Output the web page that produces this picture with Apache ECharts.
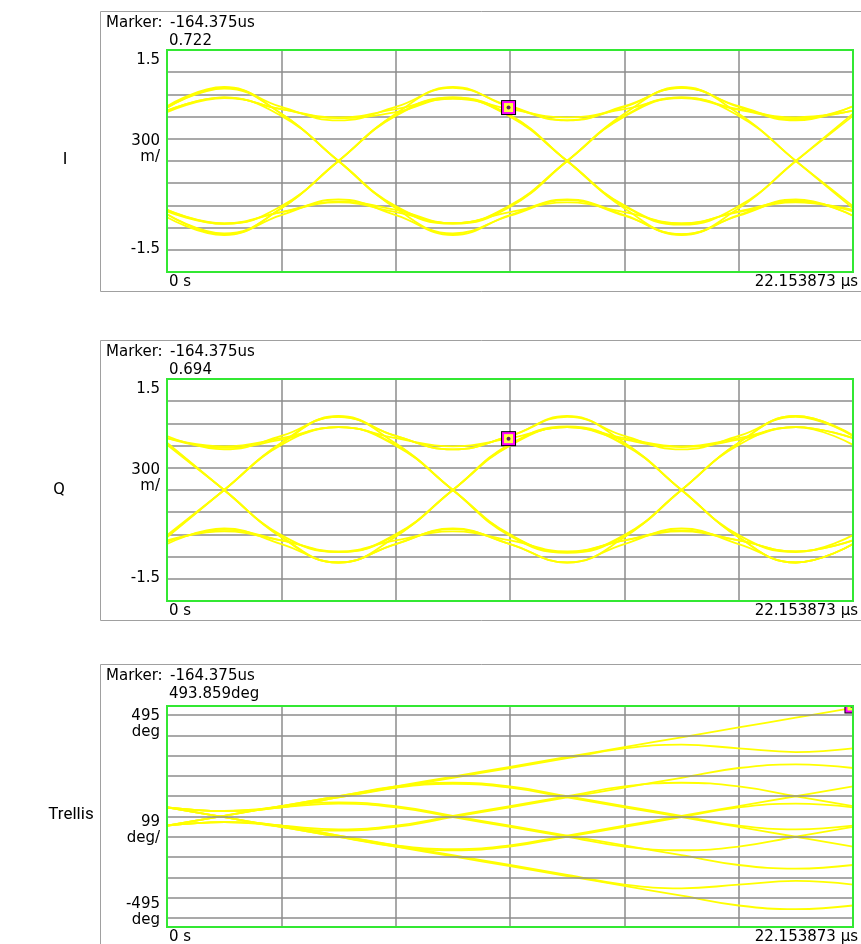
<!DOCTYPE html>
<html>
<head>
<meta charset="utf-8">
<script src="https://cdn.jsdelivr.net/npm/echarts@6/dist/echarts.min.js"></script>
<style>
html,body{margin:0;padding:0;background:#fff;}
#chart{width:861px;height:944px;}
</style>
</head>
<body>
<div id="chart"></div>
<script>
// ---------- data ----------
const panelNames = ['I', 'Q', 'Trellis'];
const markerLabel = 'Marker:';
const markerTime = '-164.375us';
const markerReadouts = ['0.722', '0.694', '493.859deg'];
const xStartLabel = '0 s';
const xEndLabel = '22.153873 µs';
const xMax = 22.153873;
const iqTickLabels = ['1.5', '300\nm/', '-1.5'];
const trellisTickLabels = ['495\ndeg', '99\ndeg/', '-495\ndeg'];
const trellisGridValues = [-495, -396, -297, -198, -99, 0, 99, 198, 297, 396, 495];

// sample times (µs), quarter-symbol spacing
const timeUs = [0, 1.846, 3.692, 5.538, 7.385, 9.231, 11.077, 12.923, 14.769, 16.615, 18.462, 20.308, 22.153873];

// I eye-diagram traces (V)
const iTraces = [
  [0.74, 1.00, 0.73, 0.55, 0.73, 1.00, 0.73, 0.55, 0.73, 1.00, 0.73, 0.55, 0.74],
  [0.68, 0.86, 0.70, 0.59, 0.70, 0.86, 0.70, 0.59, 0.70, 0.86, 0.70, 0.59, 0.68],
  [-0.76, -1.00, -0.73, -0.52, -0.73, -1.00, -0.73, -0.52, -0.73, -1.00, -0.73, -0.52, -0.74],
  [-0.66, -0.84, -0.69, -0.56, -0.69, -0.84, -0.69, -0.56, -0.69, -0.84, -0.69, -0.56, -0.66],
  [0.72, 0.99, 0.64, 0.00, -0.64, -0.98, -0.74, -0.53, -0.74, -0.99, -0.64, 0.00, 0.64],
  [-0.72, -0.99, -0.64, 0.00, 0.64, 0.99, 0.74, 0.55, 0.74, 0.99, 0.64, 0.00, -0.64],
  [0.68, 0.86, 0.70, 0.58, 0.66, 0.85, 0.60, 0.00, -0.60, -0.85, -0.68, -0.55, -0.68],
  [-0.68, -0.85, -0.69, -0.55, -0.66, -0.84, -0.60, 0.00, 0.60, 0.85, 0.69, 0.58, 0.68],
  [0.66, 0.85, 0.61, 0.00, -0.61, -0.84, -0.61, 0.00, 0.61, 0.86, 0.61, 0.00, -0.61],
  [-0.66, -0.85, -0.61, 0.00, 0.61, 0.84, 0.61, 0.00, -0.61, -0.86, -0.61, 0.00, 0.61],
  [0.72, 0.98, 0.64, 0.00, -0.62, -0.85, -0.62, 0.00, 0.64, 0.99, 0.74, 0.56, 0.74],
  [-0.72, -0.98, -0.64, 0.00, 0.62, 0.86, 0.62, 0.00, -0.64, -0.99, -0.74, -0.53, -0.74]
];

// Q eye-diagram traces (V)
const qTraces = [
  [0.73, 0.55, 0.73, 1.00, 0.73, 0.55, 0.73, 1.00, 0.73, 0.55, 0.73, 1.00, 0.73],
  [0.70, 0.59, 0.70, 0.85, 0.70, 0.59, 0.70, 0.85, 0.70, 0.59, 0.70, 0.85, 0.70],
  [-0.73, -0.52, -0.73, -0.98, -0.73, -0.52, -0.73, -0.98, -0.73, -0.52, -0.73, -0.98, -0.73],
  [-0.68, -0.56, -0.68, -0.83, -0.68, -0.56, -0.68, -0.83, -0.68, -0.56, -0.68, -0.83, -0.68],
  [0.64, 0.00, -0.64, -0.98, -0.73, -0.53, -0.73, -0.98, -0.64, 0.00, 0.64, 0.99, 0.73],
  [-0.64, 0.00, 0.64, 0.99, 0.73, 0.55, 0.73, 0.99, 0.64, 0.00, -0.64, -0.98, -0.73],
  [0.70, 0.57, 0.68, 0.85, 0.60, 0.00, -0.60, -0.84, -0.68, -0.55, -0.68, -0.83, -0.68],
  [-0.70, -0.54, -0.68, -0.84, -0.60, 0.00, 0.60, 0.85, 0.68, 0.58, 0.68, 0.85, 0.70],
  [0.61, 0.00, -0.61, -0.84, -0.61, 0.00, 0.61, 0.85, 0.61, 0.00, -0.61, -0.84, -0.61],
  [-0.61, 0.00, 0.61, 0.85, 0.61, 0.00, -0.61, -0.84, -0.61, 0.00, 0.61, 0.85, 0.61],
  [-0.63, 0.00, 0.63, 0.99, 0.63, 0.00, -0.62, -0.85, -0.62, 0.00, 0.64, 1.00, 0.74],
  [0.63, 0.00, -0.63, -0.98, -0.63, 0.00, 0.62, 0.86, 0.62, 0.00, -0.64, -0.98, -0.73]
];

// Trellis (phase) traces (deg)
const trellisTraces = [
  [-45, 3, 51, 99, 147, 195, 243, 291, 339, 387, 435, 483, 531],
  [45, -3, -51, -99, -147, -195, -243, -291, -339, -387, -435, -453, -435],
  [45, 27, 45, 63, 45, -3, -51, -99, -147, -165, -147, -99, -51],
  [-45, -27, -45, -63, -45, 3, 51, 99, 147, 165, 147, 99, 51],
  [-45, 3, 51, 99, 147, 165, 147, 99, 51, 3, -45, -63, -45],
  [45, -3, -51, -99, -147, -165, -147, -99, -51, -3, 45, 63, 45],
  [45, 27, 45, 93, 141, 189, 237, 285, 333, 351, 333, 315, 333],
  [-45, -27, -45, -93, -141, -189, -237, -285, -333, -351, -333, -315, -333],
  [-45, -27, -45, -93, -141, -159, -141, -93, -45, 3, 51, 99, 147],
  [45, 27, 45, 93, 141, 159, 141, 93, 45, -3, -51, -99, -147],
  [45, -3, -51, -69, -51, -3, 45, 93, 141, 189, 237, 255, 237],
  [-45, 3, 51, 69, 51, 3, -45, -93, -141, -189, -237, -255, -237]
];

// marker positions (time µs, value)
const markerI = [11.03, 0.722];
const markerQ = [11.03, 0.694];
const markerT = [22.12, 540];

// ---------- chart ----------
const chart = echarts.init(document.getElementById('chart'), null, {renderer: 'canvas'});
const FONT = '"DejaVu Sans", sans-serif';
const gridColor = '#8c8c8c';
const green = '#33e833';
const traceColor = '#ffff00';

const plots = [
  {top: 50, height: 222, frameTop: 11.5, frameH: 280},
  {top: 379, height: 222, frameTop: 340.5, frameH: 280},
  {top: 706, height: 221, frameTop: 664.5, frameH: 300}
];
const plotLeft = 167, plotWidth = 686;

const grids = plots.map(p => ({
  left: plotLeft, top: p.top, width: plotWidth, height: p.height,
  show: true, borderWidth: 0, backgroundColor: '#ffffff'
}));

const splitStyle = {show: true, showMinLine: false, showMaxLine: false, lineStyle: {color: gridColor, width: 1.5}};
const xAxes = plots.map((p, i) => ({
  type: 'value', gridIndex: i, min: 0, max: xMax, interval: xMax / 6,
  axisLine: {show: false}, axisTick: {show: false}, axisLabel: {show: false},
  splitLine: splitStyle
}));

const yAxes = [
  {type: 'value', gridIndex: 0, min: -1.5, max: 1.5, interval: 0.3},
  {type: 'value', gridIndex: 1, min: -1.5, max: 1.5, interval: 0.3},
  {type: 'value', gridIndex: 2, min: -540, max: 540, interval: 108}
].map((a, i) => Object.assign(a, {
  axisLine: {show: false}, axisTick: {show: false}, axisLabel: {show: false},
  splitLine: i < 2 ? splitStyle : {show: false}
}));

const series = [];
function addTraces(traces, idx) {
  traces.forEach(tr => {
    series.push({
      type: 'line', xAxisIndex: idx, yAxisIndex: idx, smooth: 0.45,
      symbol: 'none', silent: true, animation: false, z: 3,
      lineStyle: {color: traceColor, width: 1.8},
      data: timeUs.map((t, k) => [t, tr[k]])
    });
  });
}
// trellis grid lines
series.push({
  type: 'line', xAxisIndex: 2, yAxisIndex: 2, data: [], silent: true, animation: false, z: 1,
  markLine: {
    silent: true, symbol: 'none', animation: false, label: {show: false},
    lineStyle: {color: gridColor, width: 1.5, type: 'solid'},
    data: trellisGridValues.map(v => ({yAxis: v}))
  }
});
addTraces(iTraces, 0);
addTraces(qTraces, 1);
addTraces(trellisTraces, 2);

function addMarker(pt, idx) {
  series.push({
    type: 'custom', xAxisIndex: idx, yAxisIndex: idx, clip: true, silent: true, animation: false, z: 10,
    data: [pt],
    renderItem: function (params, api) {
      const c = api.coord([api.value(0), api.value(1)]);
      return {type: 'group', children: [
        {type: 'rect', shape: {x: c[0] - 7.5, y: c[1] - 7.5, width: 15, height: 15}, style: {fill: '#000'}},
        {type: 'rect', shape: {x: c[0] - 6.5, y: c[1] - 6.5, width: 13, height: 13}, style: {fill: '#ff00ff'}},
        {type: 'rect', shape: {x: c[0] - 4.5, y: c[1] - 4.5, width: 9, height: 9}, style: {fill: '#ffff40'}},
        {type: 'circle', shape: {cx: c[0], cy: c[1], r: 2}, style: {fill: '#602060'}}
      ]};
    }
  });
}
addMarker(markerI, 0);
addMarker(markerQ, 1);
addMarker(markerT, 2);

// ---------- text & frames ----------
const graphic = [];
const txt = (x, y, text, align, extra) => Object.assign({
  type: 'text', x: x, y: y, silent: true,
  style: Object.assign({text: text, font: '15px ' + FONT, fill: '#000', align: align || 'left', verticalAlign: 'middle', lineHeight: 16}, extra || {})
});
plots.forEach((p, i) => {
  graphic.push({type: 'rect', silent: true, z: 0, shape: {x: 100.5, y: p.frameTop, width: 800, height: p.frameH},
    style: {fill: 'none', stroke: '#a0a0a0', lineWidth: 1}});
  graphic.push({type: 'rect', silent: true, z: 100, shape: {x: plotLeft, y: p.top, width: plotWidth, height: p.height},
    style: {fill: 'none', stroke: green, lineWidth: 2}});
  const off = i === 2 ? 3 : 0;
  graphic.push(txt(106, p.top - 26.5 - off, markerLabel));
  graphic.push(txt(170, p.top - 26.5 - off, markerTime));
  graphic.push(txt(169, p.top - 9 - off, markerReadouts[i]));
  const bottom = p.top + p.height;
  graphic.push(txt(169, bottom + 10, xStartLabel));
  graphic.push(txt(858, bottom + 10, xEndLabel, 'right'));
});
// y labels I/Q
[0, 1].forEach(i => {
  const p = plots[i];
  graphic.push(txt(160, p.top + 10, iqTickLabels[0], 'right'));
  graphic.push(txt(160, p.top + 99, iqTickLabels[1], 'right'));
  graphic.push(txt(160, p.top + 199, iqTickLabels[2], 'right'));
});
// trellis y labels
graphic.push(txt(160, 724, trellisTickLabels[0], 'right'));
graphic.push(txt(160, 830, trellisTickLabels[1], 'right'));
graphic.push(txt(160, 912, trellisTickLabels[2], 'right'));
// panel names
const nameFont = '17px Roboto, "Liberation Sans", sans-serif';
graphic.push(txt(65, 160, panelNames[0], 'center', {font: nameFont}));
graphic.push(txt(59, 490, panelNames[1], 'center', {font: nameFont}));
graphic.push(txt(71, 815, panelNames[2], 'center', {font: nameFont}));

chart.setOption({
  animation: false,
  backgroundColor: '#ffffff',
  grid: grids, xAxis: xAxes, yAxis: yAxes, series: series, graphic: graphic
});
</script>
</body>
</html>
